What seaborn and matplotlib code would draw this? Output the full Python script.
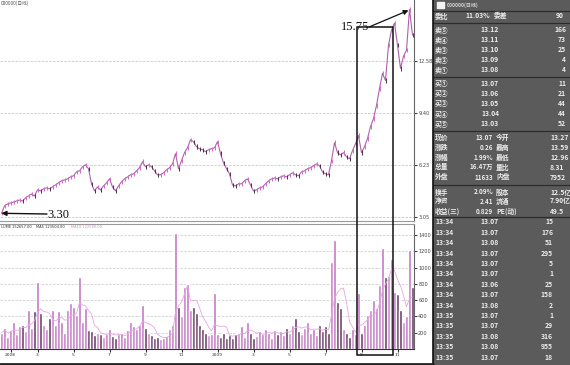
import numpy as np
import pandas as pd
import matplotlib
matplotlib.use("Agg")
import matplotlib.pyplot as plt
import seaborn as sns
from matplotlib.patches import Rectangle

# ---------------- data ----------------
price = [3.30, 3.75, 3.87, 3.93, 3.99, 4.05, 4.11, 4.05, 4.24, 4.36,
         4.48, 4.36, 4.73, 4.67, 4.79, 4.85, 4.79, 4.91, 5.03, 5.16,
         5.28, 5.34, 5.40, 5.52, 5.59, 5.83, 5.89, 6.14, 6.26, 6.02,
         5.10, 4.67, 4.91, 4.73, 4.97, 5.16, 5.40, 4.91, 4.67, 4.97,
         5.22, 5.40, 5.52, 5.65, 5.71, 5.89, 6.08, 6.45, 6.14, 6.26,
         6.14, 5.89, 5.65, 5.65, 5.77, 5.95, 6.08, 6.32, 6.94, 6.02,
         6.51, 7.00, 7.30, 7.79, 7.67, 7.37, 7.24, 7.18, 7.06, 7.18,
         7.24, 7.30, 7.67, 6.94, 6.38, 6.02, 5.71, 5.03, 4.97, 5.10,
         5.10, 5.28, 5.40, 5.03, 4.67, 4.73, 4.85, 4.91, 5.10, 5.28,
         5.40, 5.46, 5.40, 5.52, 5.59, 5.52, 5.65, 5.77, 5.65, 5.59,
         5.83, 5.89, 6.02, 6.08, 6.20, 6.32, 6.20, 5.83, 5.71, 5.65,
         6.51, 7.61, 7.00, 6.87, 7.00, 6.75, 6.63, 7.12, 7.55, 8.04,
         7.00, 7.37, 7.86, 8.59, 9.08, 9.88, 10.92, 11.84, 11.41, 13.56,
         14.48, 14.91, 13.56, 12.15, 12.89, 13.25, 15.75, 14.18]

volume = [200, 260, 150, 230, 330, 180, 280, 300, 220, 480,
          260, 470, 820, 440, 300, 250, 380, 480, 300, 470,
          330, 200, 480, 560, 520, 420, 880, 330, 500, 230,
          220, 170, 200, 190, 150, 180, 240, 160, 130, 180,
          200, 150, 230, 330, 280, 250, 300, 540, 260, 200,
          170, 130, 150, 120, 140, 160, 240, 300, 1420, 520,
          400, 760, 800, 480, 520, 440, 300, 250, 200, 170,
          190, 690, 180, 150, 200, 130, 170, 140, 180, 200,
          280, 150, 330, 200, 130, 160, 220, 180, 250, 200,
          140, 230, 180, 220, 170, 260, 200, 300, 380, 220,
          180, 260, 330, 200, 250, 170, 300, 220, 280, 200,
          1070, 1340, 580, 500, 250, 200, 150, 250, 180, 690,
          200, 300, 420, 480, 600, 500, 780, 1240, 880, 900,
          1110, 700, 680, 480, 330, 400, 1220, 760]

price_ticks = [3.05, 6.23, 9.40, 12.58]
price_tick_labels = ["3.05", "6.23", "9.40", "12.58"]
vol_ticks = [200, 400, 600, 800, 1000, 1200, 1400]
vol_tick_labels = ["200", "400", "600", "800", "1000", "1200", "1400"]
date_tick_idx = [3, 12, 24, 36, 48, 60, 72, 84, 96, 108, 120, 132]
date_tick_labels = ["2008", "3", "5", "7", "9", "11", "2009", "3", "5", "7", "9", "11"]
low_label = "3.30"
high_label = "15.75"
box_first, box_last = 119, 130

vol_header = ["LUME 152657.00", "MA5 123504.00", "MA10 122580.00"]
chart_title = "000000(日线)"

# quote table
quote_labels = ["卖⑤", "卖④", "卖③", "卖②", "卖①", "买①", "买②", "买③", "买④", "买⑤"]
quote_prices = ["13.12", "13.11", "13.10", "13.09", "13.08",
                "13.07", "13.06", "13.05", "13.04", "13.03"]
quote_vols = ["166", "73", "25", "4", "4", "11", "21", "44", "44", "52"]
stat_labels = ["现价", "涨跌", "涨幅", "总量", "外盘", "换手", "净资", "收益(三)"]
stat_values = ["13.07", "0.26", "1.99%", "16.47万", "11633", "2.09%", "2.41", "0.829"]
stat_labels2 = ["今开", "最高", "最低", "量比", "内盘", "股本", "流通", "PE(动)"]
stat_values2 = ["13.27", "13.59", "12.96", "8.31", "7952", "12.5亿", "7.90亿", "49.5"]
tick_times = ["13:34"] * 9 + ["13:35"] * 5
tick_prices = ["13.07", "13.07", "13.08", "13.07", "13.07", "13.07", "13.06",
               "13.07", "13.08", "13.07", "13.07", "13.08", "13.08", "13.07"]
tick_vols = ["15", "176", "51", "295", "5", "1", "25", "158", "2", "1", "29", "316", "955", "18"]

# ---------------- style ----------------
sns.set_style("white")
plt.rcParams["font.family"] = ["DejaVu Sans", "Noto Sans CJK SC"]
CJK = ["Noto Sans CJK SC", "DejaVu Sans"]

W, H = 570, 365
fig = plt.figure(figsize=(W / 100, H / 100), dpi=100)
fig.patch.set_facecolor("white")

def fax(x0, y0, x1, y1):
    """pixel box (top-origin) -> axes"""
    return fig.add_axes([x0 / W, 1 - y1 / H, (x1 - x0) / W, (y1 - y0) / H])

n = len(price)
idx = np.arange(n)
direction = ["up"] + ["up" if price[i] >= price[i - 1] else "down" for i in range(1, n)]
df = pd.DataFrame({"idx": idx, "price": price, "vol": volume, "dir": direction})
df["ma5"] = df["vol"].rolling(5, min_periods=1).mean()

# ---------------- price panel ----------------
ax1 = fax(0, 0, 414, 221)
sns.lineplot(data=df, x="idx", y="price", ax=ax1, color="#b260ad", lw=0.8)
sns.scatterplot(data=df, x="idx", y="price", hue="dir", hue_order=["up", "down"],
                palette={"up": "#cf6ccb", "down": "#4a3048"}, marker="|", s=10,
                linewidth=0.7, legend=False, ax=ax1, zorder=3)
ax1.set_xlim(-0.5, n - 0.5)
ax1.set_ylim(2.83, 16.32)
ax1.set_yticks(price_ticks)
ax1.set_yticklabels(price_tick_labels)
ax1.yaxis.tick_right()
ax1.tick_params(axis="y", labelsize=3.6, length=2, pad=1, colors="#444444", right=True)
ax1.set_xticks([])
ax1.grid(axis="y", color="#c9c9c9", lw=0.6, ls=(0, (3, 1.5)))
ax1.set_xlabel("")
ax1.set_ylabel("")
for s in ["top", "left"]:
    ax1.spines[s].set_visible(False)
ax1.spines["right"].set_color("#666666")
ax1.spines["right"].set_linewidth(0.8)
ax1.spines["bottom"].set_color("#999999")
ax1.spines["bottom"].set_linewidth(0.8)

# ---------------- volume panel ----------------
ax2 = fax(0, 224, 414, 349)
sns.barplot(data=df, x="idx", y="vol", hue="dir", hue_order=["up", "down"],
            palette={"up": "#cf6bcf", "down": "#74386f"}, dodge=False, legend=False,
            width=0.75, errorbar=None, ax=ax2, native_scale=True)
sns.lineplot(data=df, x="idx", y="ma5", ax=ax2, color="#e7a5e4", lw=0.6)
ax2.set_xlim(-0.5, n - 0.5)
ax2.set_ylim(0, 1535)
ax2.set_yticks(vol_ticks)
ax2.set_yticklabels(vol_tick_labels)
ax2.yaxis.tick_right()
ax2.tick_params(axis="y", labelsize=3.6, length=2, pad=1, colors="#444444", right=True)
ax2.set_xticks(date_tick_idx)
ax2.set_xticklabels(date_tick_labels)
ax2.tick_params(axis="x", labelsize=3.2, length=2, pad=1, colors="#333333", bottom=True)
ax2.grid(axis="y", color="#d0d0d0", lw=0.6, ls=(0, (3, 1.5)))
ax2.set_axisbelow(True)
ax2.set_xlabel("")
ax2.set_ylabel("")
ax2.spines["left"].set_visible(False)
ax2.spines["top"].set_color("#999999")
ax2.spines["top"].set_linewidth(0.8)
ax2.spines["right"].set_color("#666666")
ax2.spines["right"].set_linewidth(0.8)
ax2.spines["bottom"].set_color("#333333")
ax2.spines["bottom"].set_linewidth(0.8)

# ---------------- quote table panel ----------------
ax3 = fax(433, 0, 570, 365)
ax3.set_facecolor("#5b5b5b")
ax3.set_xlim(433, 570)
ax3.set_ylim(365, 0)
ax3.set_xticks([])
ax3.set_yticks([])
for s in ["top", "right", "bottom"]:
    ax3.spines[s].set_visible(False)
ax3.spines["left"].set_color("#111111")
ax3.spines["left"].set_linewidth(1.2)

tc = "#ececec"
fs = 4.9

def tt(x, y, s, ha="left", color=tc, size=fs):
    ax3.text(x, y, s, ha=ha, va="center", color=color, fontsize=size,
             family=CJK, fontweight="bold", clip_on=True)

for y in [11, 23, 77, 131, 185, 217]:
    ax3.plot([433, 570], [y, y], color="#2c2c2c", lw=0.9)

ax3.add_patch(Rectangle((437, 2), 7, 6, color="#f2f2f2"))
tt(447, 5, chart_title, size=3.6, color="#d8d8d8")
tt(435, 16, "委比")
tt(490, 16, "11.03%", ha="right")
tt(494, 16, "委差")
tt(556, 16, "90", ha="left")

quote_y = [30, 40, 50, 60, 70, 83, 93, 103, 114, 124]
for lab, p, v, y in zip(quote_labels, quote_prices, quote_vols, quote_y):
    tt(435, y, lab)
    tt(490, y, p, ha="center")
    tt(566, y, v, ha="right")

stat_y = [137, 147, 157, 167, 177, 192, 201, 211]
for l1, v1, l2, v2, y in zip(stat_labels, stat_values, stat_labels2, stat_values2, stat_y):
    tt(435, y, l1)
    tt(493, y, v1, ha="right", size=4.6)
    tt(496, y, l2)
    tt(550, y, v2)

for i, (t_, p, v) in enumerate(zip(tick_times, tick_prices, tick_vols)):
    y = 222 + i * 10.4
    tt(435, y, t_)
    tt(490, y, p, ha="center")
    tt(553, y, v, ha="right")

# ---------------- overlay: annotations ----------------
ov = fig.add_axes([0, 0, 1, 1], facecolor="none")
ov.set_xlim(0, W)
ov.set_ylim(H, 0)
ov.axis("off")
ov.set_zorder(10)

def to_px(ax, x, y):
    dx, dy = ax.transData.transform((x, y))
    return dx, H - dy

ov.text(1, 3, chart_title, fontsize=3.4, color="#555555", va="center", family=CJK)
for s, c, hx in zip(vol_header, ["#333333", "#333333", "#d58ad2"], [1, 36, 71]):
    ov.text(hx, 227.5, s, fontsize=2.6, color=c, va="center")

# highlight box
xl, _ = to_px(ax1, box_first - 0.5, 0)
xr, _ = to_px(ax1, box_last + 0.5, 0)
ov.add_patch(Rectangle((xl, 27), xr - xl, 355 - 27, fill=False, ec="#111111", lw=1.1))

# 15.75 high annotation
imax = int(np.argmax(price))
pxh, pyh = to_px(ax1, imax, price[imax])
ov.text(369, 27, high_label, ha="right", va="center", fontsize=9,
        family="Liberation Serif", color="#111111")
ov.annotate("", xy=(pxh - 1, pyh + 1), xytext=(369, 27),
            arrowprops=dict(arrowstyle="-|>", color="#111111", lw=0.9,
                            mutation_scale=7, shrinkA=0, shrinkB=0))

# 3.30 low annotation
pxl, pyl = to_px(ax1, 0, price[0])
ov.text(47, 215, low_label, ha="left", va="center", fontsize=9,
        family="Liberation Serif", color="#111111")
ov.annotate("", xy=(pxl, pyl), xytext=(47, 214),
            arrowprops=dict(arrowstyle="-|>", color="#111111", lw=1.0,
                            mutation_scale=7, shrinkA=0, shrinkB=0))

# bottom dark edge
ov.plot([0, 433], [363.5, 363.5], color="#222222", lw=2)

fig.savefig("out.png", dpi=100, facecolor="white")
